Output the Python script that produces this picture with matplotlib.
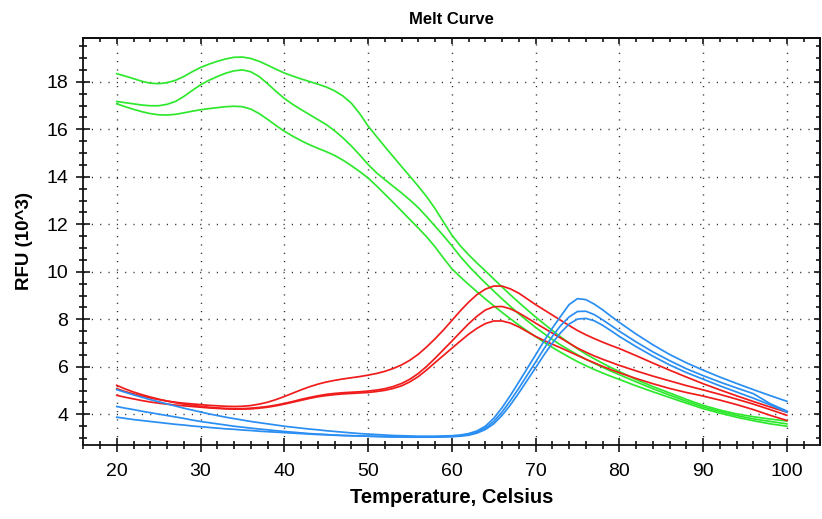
import matplotlib
matplotlib.use("Agg")
import matplotlib.pyplot as plt
from matplotlib.ticker import MultipleLocator, NullFormatter

plt.rcParams['font.family'] = ['Liberation Sans', 'DejaVu Sans']

temps = list(range(20, 81)) + list(range(82, 101, 2))

green_top = [18.34, 18.24, 18.13, 18.02, 17.94, 17.92, 17.96, 18.06, 18.22, 18.42,
             18.6, 18.74, 18.86, 18.96, 19.03, 19.04, 18.98, 18.86, 18.7, 18.53,
             18.37, 18.24, 18.12, 18.01, 17.9, 17.78, 17.62, 17.4, 17.1, 16.66,
             16.14, 15.7, 15.27, 14.85, 14.43, 14.02, 13.6, 13.16, 12.66, 12.1,
             11.55, 11.1, 10.72, 10.37, 10.04, 9.7, 9.36, 9.03, 8.71, 8.4,
             8.1, 7.81, 7.53, 7.26, 7.0, 6.76, 6.54, 6.34, 6.15, 5.97, 5.8,
             5.47, 5.17, 4.9, 4.63, 4.38, 4.18, 4.02, 3.9, 3.8, 3.72]
green_mid = [17.17, 17.12, 17.07, 17.02, 16.99, 16.99, 17.05, 17.17, 17.38, 17.63,
             17.87, 18.06, 18.22, 18.36, 18.46, 18.5, 18.42, 18.22, 17.92, 17.6,
             17.3, 17.05, 16.83, 16.62, 16.41, 16.2, 15.94, 15.64, 15.3, 14.92,
             14.52, 14.17, 13.88, 13.6, 13.32, 13.02, 12.7, 12.32, 11.92, 11.52,
             11.1, 10.65, 10.25, 9.88, 9.53, 9.19, 8.86, 8.54, 8.23, 7.94,
             7.66, 7.4, 7.15, 6.92, 6.71, 6.51, 6.32, 6.15, 5.98, 5.82, 5.67,
             5.37, 5.08, 4.81, 4.55, 4.31, 4.12, 3.95, 3.81, 3.7, 3.6]
green_low = [17.07, 16.95, 16.84, 16.74, 16.66, 16.61, 16.6, 16.63, 16.69, 16.76,
             16.82, 16.87, 16.91, 16.95, 16.97, 16.95, 16.85, 16.66, 16.42, 16.16,
             15.92, 15.71, 15.52, 15.35, 15.2, 15.06, 14.9, 14.7, 14.47, 14.22,
             13.95, 13.62, 13.27, 12.92, 12.56, 12.2, 11.84, 11.47, 11.05, 10.58,
             10.13, 9.79, 9.47, 9.16, 8.86, 8.57, 8.29, 8.02, 7.76, 7.51,
             7.27, 7.04, 6.82, 6.61, 6.41, 6.22, 6.05, 5.89, 5.74, 5.6, 5.47,
             5.2, 4.95, 4.71, 4.47, 4.24, 4.05, 3.88, 3.73, 3.6, 3.5]

red_a = [5.08, 4.96, 4.86, 4.77, 4.69, 4.62, 4.56, 4.51, 4.47, 4.44,
         4.41, 4.38, 4.36, 4.34, 4.33, 4.34, 4.37, 4.43, 4.51, 4.62,
         4.75, 4.89, 5.03, 5.16, 5.27, 5.36, 5.43, 5.49, 5.54, 5.59,
         5.65, 5.72, 5.81, 5.93, 6.08, 6.28, 6.53, 6.84, 7.18, 7.55,
         7.95, 8.35, 8.72, 9.04, 9.27, 9.4, 9.4, 9.28, 9.1, 8.86,
         8.62, 8.4, 8.18, 7.96, 7.74, 7.53, 7.35, 7.19, 7.04, 6.9, 6.77,
         6.47, 6.16, 5.86, 5.57, 5.29, 5.03, 4.78, 4.54, 4.31, 4.09]
red_b = [5.22, 5.07, 4.94, 4.83, 4.73, 4.64, 4.56, 4.49, 4.43, 4.38,
         4.34, 4.3, 4.27, 4.25, 4.24, 4.24, 4.26, 4.29, 4.33, 4.39,
         4.46, 4.54, 4.63, 4.71, 4.78, 4.84, 4.88, 4.91, 4.93, 4.95,
         4.98, 5.02, 5.08, 5.17, 5.3, 5.48, 5.72, 6.02, 6.36, 6.72,
         7.08, 7.45, 7.81, 8.13, 8.39, 8.53, 8.54, 8.44, 8.27, 8.06,
         7.84, 7.63, 7.42, 7.21, 7.0, 6.79, 6.62, 6.46, 6.32, 6.19, 6.06,
         5.83, 5.61, 5.41, 5.21, 5.03, 4.84, 4.64, 4.43, 4.2, 3.96]
red_c = [4.8, 4.72, 4.65, 4.58, 4.52, 4.47, 4.43, 4.39, 4.36, 4.33,
         4.3, 4.27, 4.25, 4.23, 4.22, 4.22, 4.23, 4.26, 4.3, 4.36,
         4.43, 4.51, 4.59, 4.67, 4.74, 4.79, 4.83, 4.86, 4.88, 4.9,
         4.92, 4.96, 5.01, 5.09, 5.2, 5.37, 5.59, 5.87, 6.18, 6.48,
         6.78, 7.08, 7.37, 7.62, 7.82, 7.93, 7.93, 7.84, 7.68, 7.48,
         7.28, 7.11, 6.95, 6.8, 6.64, 6.48, 6.32, 6.17, 6.02, 5.88, 5.75,
         5.51, 5.29, 5.09, 4.92, 4.77, 4.6, 4.41, 4.2, 3.96, 3.74]

blue_a = [5.04, 4.93, 4.82, 4.72, 4.62, 4.53, 4.44, 4.35, 4.26, 4.18,
          4.1, 4.02, 3.95, 3.88, 3.82, 3.76, 3.7, 3.65, 3.6, 3.55,
          3.5, 3.46, 3.42, 3.38, 3.35, 3.31, 3.28, 3.25, 3.22, 3.19,
          3.17, 3.15, 3.13, 3.11, 3.1, 3.09, 3.08, 3.08, 3.08, 3.09,
          3.1, 3.13, 3.19, 3.3, 3.5, 3.83, 4.28, 4.8, 5.36, 5.93,
          6.5, 7.08, 7.63, 8.13, 8.62, 8.87, 8.83, 8.64, 8.4, 8.13, 7.87,
          7.38, 6.93, 6.52, 6.17, 5.86, 5.57, 5.3, 5.04, 4.79, 4.55]
blue_b = [4.33, 4.26, 4.2, 4.13, 4.07, 4.01, 3.95, 3.89, 3.83, 3.76,
          3.7, 3.65, 3.6, 3.55, 3.5, 3.46, 3.42, 3.38, 3.35, 3.31,
          3.28, 3.25, 3.22, 3.19, 3.17, 3.15, 3.13, 3.11, 3.1, 3.09,
          3.08, 3.07, 3.06, 3.05, 3.05, 3.04, 3.04, 3.04, 3.05, 3.06,
          3.07, 3.1, 3.15, 3.25, 3.42, 3.7, 4.1, 4.58, 5.1, 5.65,
          6.2, 6.76, 7.28, 7.74, 8.1, 8.33, 8.34, 8.2, 7.98, 7.74, 7.5,
          7.05, 6.63, 6.26, 5.92, 5.63, 5.36, 5.11, 4.87, 4.45, 4.14]
blue_c = [3.88, 3.83, 3.78, 3.74, 3.7, 3.66, 3.62, 3.58, 3.55, 3.51,
          3.48, 3.45, 3.42, 3.39, 3.37, 3.34, 3.32, 3.29, 3.27, 3.25,
          3.23, 3.21, 3.19, 3.17, 3.15, 3.14, 3.12, 3.11, 3.1, 3.09,
          3.08, 3.07, 3.06, 3.05, 3.05, 3.04, 3.04, 3.04, 3.04, 3.05,
          3.06, 3.08, 3.12, 3.21, 3.36, 3.6, 3.96, 4.4, 4.9, 5.43,
          5.96, 6.5, 7.0, 7.44, 7.8, 8.01, 8.04, 7.94, 7.75, 7.52, 7.28,
          6.85, 6.45, 6.08, 5.76, 5.48, 5.2, 4.94, 4.68, 4.4, 4.09]

GREEN = '#2ee82e'
RED = '#f01c1c'
BLUE = '#2a8ef2'

fig = plt.figure(figsize=(8.22, 5.19), dpi=100)
ax = fig.add_axes([0.1013, 0.1426, 0.8957, 0.785])

for s in (green_top, green_mid, green_low):
    ax.plot(temps, s, color=GREEN, lw=1.25, zorder=3, solid_joinstyle='round')
for s in (red_a, red_b, red_c):
    ax.plot(temps, s, color=RED, lw=1.25, zorder=3, solid_joinstyle='round')
for s in (blue_a, blue_b, blue_c):
    ax.plot(temps, s, color=BLUE, lw=1.25, zorder=3, solid_joinstyle='round')

ax.set_xlim(16, 103.9)
ax.set_ylim(2.71, 19.86)
ax.xaxis.set_major_locator(MultipleLocator(10))
ax.xaxis.set_minor_locator(MultipleLocator(2))
ax.yaxis.set_major_locator(MultipleLocator(2))
ax.yaxis.set_minor_locator(MultipleLocator(0.5))

ax.grid(True, which='major', color='#222222', lw=1.0, linestyle=(0, (0.8, 5.2)))

for sp in ax.spines.values():
    sp.set_linewidth(1.3)
    sp.set_color('#111111')

ax.tick_params(which='major', direction='inout', length=9.4, width=1.1, labelsize=14)
ax.tick_params(axis='x', which='major', pad=8)
ax.tick_params(axis='y', which='major', pad=6)
ax.tick_params(which='minor', direction='inout', length=5.4, width=1.1)

secx = ax.secondary_xaxis('top')
secx.xaxis.set_major_locator(MultipleLocator(10))
secx.xaxis.set_minor_locator(MultipleLocator(2))
secx.tick_params(which='major', direction='in', length=4.2, width=1.1, labeltop=False)
secx.tick_params(which='minor', direction='in', length=3.0, width=1.1)
secx.xaxis.set_major_formatter(NullFormatter())
secx.spines['top'].set_linewidth(1.3)

secy = ax.secondary_yaxis('right')
secy.yaxis.set_major_locator(MultipleLocator(2))
secy.yaxis.set_minor_locator(MultipleLocator(0.5))
secy.tick_params(which='major', direction='in', length=4.2, width=1.1, labelright=False)
secy.tick_params(which='minor', direction='in', length=3.0, width=1.1)
secy.yaxis.set_major_formatter(NullFormatter())
secy.spines['right'].set_linewidth(1.3)

ax.set_title('Melt Curve', fontsize=12, fontweight='bold', pad=10)
ax.set_xlabel('Temperature, Celsius', fontsize=14.5, fontweight='bold', labelpad=6)
ax.set_ylabel('RFU (10^3)', fontsize=13.5, fontweight='bold', labelpad=10)

fig.savefig('out.png', dpi=100)
